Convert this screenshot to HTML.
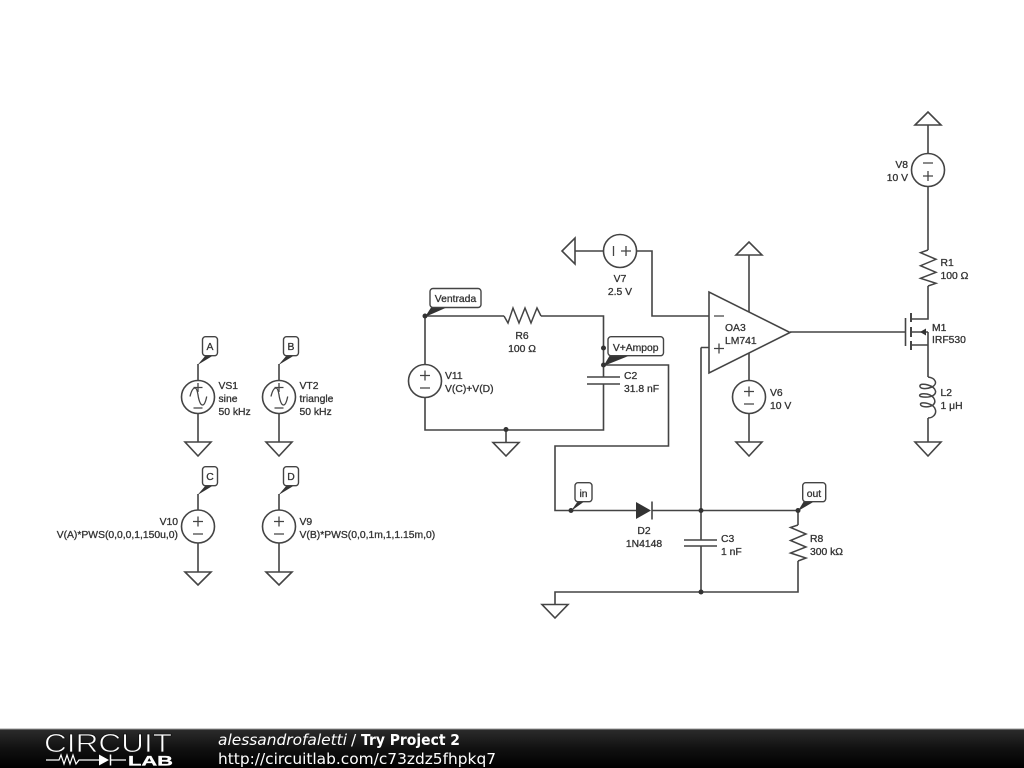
<!DOCTYPE html>
<html>
<head>
<meta charset="utf-8">
<style>
html,body{margin:0;padding:0;background:#fff;width:1024px;height:768px;overflow:hidden}
svg{display:block;position:absolute;left:0;top:0}
.w{fill:none;stroke:#444;stroke-width:1.6}
.g{fill:#fff;stroke:#444;stroke-width:1.6}
.d{fill:#333;stroke:none}
.s{fill:none;stroke:#444;stroke-width:1.3}
text{font-family:"Liberation Sans",sans-serif;font-size:10.35px;fill:#333;stroke:#333;stroke-width:0.3}
.e{text-anchor:end}
.m{text-anchor:middle}
.f{font-family:"DejaVu Sans",sans-serif;font-size:15.4px;fill:#fff;stroke:none}
</style>
</head>
<body>
<svg width="1024" height="768" viewBox="0 0 1024 768" xmlns="http://www.w3.org/2000/svg">
<defs>
<linearGradient id="bar" x1="0" y1="0" x2="0" y2="1">
<stop offset="0" stop-color="#2c2c2c"/>
<stop offset="0.5" stop-color="#111"/>
<stop offset="1" stop-color="#000"/>
</linearGradient>
</defs>

<!-- Wires -->
<path class="w" d="M198 364V381M198 414V442M279 364V381M279 414V442"/>
<path class="w" d="M198 494V510M198 543V572M279 494V510M279 543V572"/>
<path class="w" d="M425 316V365M425 398V430H603.500V384M425 316H504M541 316H603.500V377"/>
<path class="w" d="M506 430V442"/>
<path class="w" d="M603.500 365H668.500V446H555V510.500H636M652 510.500H798V525M798 561V592H555V604"/>
<path class="w" d="M701 347.500V540M701 546V592M701 347.500H709"/>
<path class="w" d="M575 251H603.500M637 251H652V316H709"/>
<path class="w" d="M749 255V312M749 353V381M749 414V442"/>
<path class="w" d="M790 332H905"/>
<path class="w" d="M928 125V153M928 187V250M928 286V319H911M928 332V377M928 418V442M911 345H928M911 332H928"/>

<!-- Grounds -->
<path class="g" d="M185 442H211L198 456Z"/>
<path class="g" d="M266 442H292L279 456Z"/>
<path class="g" d="M185 572H211L198 585Z"/>
<path class="g" d="M266 572H292L279 585Z"/>
<path class="g" d="M493 442.500H519L506 456Z"/>
<path class="g" d="M542 604.500H568L555 618Z"/>
<path class="g" d="M736 442H762L749 456Z"/>
<path class="g" d="M915 442H941L928 456Z"/>
<path class="g" d="M736 255H762L749 242Z"/>
<path class="g" d="M915 125H941L928 112Z"/>
<path class="g" d="M575 238V264L562 251Z"/>

<!-- Source circles -->
<circle class="g" cx="198" cy="397" r="16.500"/>
<circle class="g" cx="279" cy="397" r="16.500"/>
<circle class="g" cx="198" cy="526.500" r="16.500"/>
<circle class="g" cx="279" cy="526.500" r="16.500"/>
<circle class="g" cx="425" cy="381" r="16.500"/>
<circle class="g" cx="620" cy="251" r="16.500"/>
<circle class="g" cx="749" cy="397" r="16.500"/>
<circle class="g" cx="928" cy="170" r="16.500"/>

<!-- Sine symbols and polarity -->
<path class="s" d="M190 396.500Q192 388 195 388Q197 388 198.300 396.700Q200 405 202.500 405Q205 405 206.700 396.500"/>
<path class="s" d="M198 383V392M193.500 387.500H202.500M193.500 408H202.500"/>
<path class="s" d="M271 396.500Q273 388 276 388Q278 388 279.300 396.700Q281 405 283.500 405Q286 405 287.700 396.500"/>
<path class="s" d="M279 383V392M274.500 387.500H283.500M274.500 408H283.500"/>

<!-- Plus / minus -->
<path class="s" d="M193 521.500H203M198 516.500V526.500M193 534H203"/>
<path class="s" d="M274 521.500H284M279 516.500V526.500M274 534H284"/>
<path class="s" d="M420 375.500H430M425 370.500V380.500M420 388H430"/>
<path class="s" d="M744 391.500H754M749 386.500V396.500M744 404H754"/>
<path class="s" d="M923 163H933M923 176H933M928 171V181"/>
<path class="s" d="M613.500 246V256M621 251H631M626 246V256"/>

<!-- Resistors -->
<path class="s" d="M504 316L508 323L513 308L519 323L525 308L531 323L537 308L541 316" style="stroke-width:1.500"/>
<path class="s" d="M928 250L920.500 252.700L936 259.300L920.500 265.700L936 272.300L920.500 278.300L936 283.300L928 286" style="stroke-width:1.500"/>
<path class="s" d="M798 525L790.500 527.500L806 534L790.500 540.500L806 547L790.500 553L806 558L798 561" style="stroke-width:1.500"/>

<!-- Capacitors -->
<path class="w" d="M587 377H620M587 384H620"/>
<path class="w" d="M684 540H717M684 546H717"/>

<!-- Diode -->
<path class="d" d="M636 502V519L651 510.500Z"/>
<path class="w" d="M652 501.500V519.500"/>

<!-- Opamp -->
<path class="g" d="M709 292V373L790 332.500Z"/>
<path class="s" d="M714 316H724M714 348.500H724M719 343.500V353.500"/>

<!-- MOSFET -->
<path class="w" d="M905.500 318V346"/>
<path class="w" d="M911 313V322M911 327V337M911 341V350" style="stroke-width:2"/>
<path class="d" d="M920 332L926 328.500V335.500Z"/>

<!-- Inductor -->
<path class="s" d="M928 377C936 378 938 384 932 387C926 389.500 919 389 920 385.500C921 382.500 934 385 935.500 391C936.500 397 926 398 920.500 396.500C918 395 921 393 927 394C935 396 936.500 402 933 405C928 408 920 407 920.500 404C921 401.500 934 403 935.500 410C936.500 415 932 418 928 418" style="stroke-width:1.500"/>

<!-- Junction dots -->
<circle class="d" cx="425" cy="316" r="2.500"/>
<circle class="d" cx="506" cy="429.500" r="2.500"/>
<circle class="d" cx="603.500" cy="348" r="2.500"/>
<circle class="d" cx="603.500" cy="365" r="2.500"/>
<circle class="d" cx="571" cy="510.500" r="2.500"/>
<circle class="d" cx="701" cy="510.500" r="2.500"/>
<circle class="d" cx="798" cy="510.500" r="2.500"/>
<circle class="d" cx="701" cy="592" r="2.500"/>

<!-- Node label pointers -->
<path class="d" d="M197.500 365L206 355H214Z"/>
<path class="d" d="M278.500 365L287 355H295Z"/>
<path class="d" d="M197.500 495L206 485H214Z"/>
<path class="d" d="M278.500 495L287 485H295Z"/>
<path class="d" d="M425 317L432 306H450Z"/>
<path class="d" d="M603.500 366L610 355H631Z"/>
<path class="d" d="M571 511L578 501H585Z"/>
<path class="d" d="M798 511L804 501H815Z"/>

<!-- Node label boxes -->
<g fill="#fff" stroke="#444" stroke-width="1.400">
<rect x="202.500" y="336.700" width="15" height="19" rx="3"/>
<rect x="283.500" y="336.700" width="15" height="19" rx="3"/>
<rect x="202.500" y="466.700" width="15" height="19" rx="3"/>
<rect x="283.500" y="466.700" width="15" height="19" rx="3"/>
<rect x="430" y="288.500" width="51" height="19" rx="3"/>
<rect x="608" y="336.700" width="55.500" height="19" rx="3"/>
<rect x="575" y="482.700" width="17" height="19" rx="3"/>
<rect x="802.700" y="482.700" width="23" height="19" rx="3"/>
</g>
<text class="m" x="210" y="350">A</text>
<text class="m" x="291" y="350">B</text>
<text class="m" x="210" y="480">C</text>
<text class="m" x="291" y="480">D</text>
<text class="m" x="455.500" y="302">Ventrada</text>
<text class="m" x="635.700" y="351">V+Ampop</text>
<text class="m" x="583.500" y="497">in</text>
<text class="m" x="814" y="497">out</text>

<!-- Component labels -->
<text x="218.500" y="389">VS1</text>
<text x="218.500" y="402">sine</text>
<text x="218.500" y="415">50 kHz</text>
<text x="299.500" y="389">VT2</text>
<text x="299.500" y="402">triangle</text>
<text x="299.500" y="415">50 kHz</text>
<text class="e" x="178" y="525">V10</text>
<text class="e" x="178" y="538">V(A)*PWS(0,0,0,1,150u,0)</text>
<text x="299.500" y="525">V9</text>
<text x="299.500" y="538">V(B)*PWS(0,0,1m,1,1.15m,0)</text>
<text x="445" y="379">V11</text>
<text x="445" y="392">V(C)+V(D)</text>
<text class="m" x="522" y="339">R6</text>
<text class="m" x="522" y="352">100 Ω</text>
<text x="624" y="379">C2</text>
<text x="624" y="392">31.8 nF</text>
<text class="m" x="620" y="282">V7</text>
<text class="m" x="620" y="295">2.5 V</text>
<text x="725" y="331">OA3</text>
<text x="725" y="344">LM741</text>
<text x="770" y="396">V6</text>
<text x="770" y="409">10 V</text>
<text class="e" x="908" y="168">V8</text>
<text class="e" x="908" y="181">10 V</text>
<text x="940.500" y="266">R1</text>
<text x="940.500" y="279">100 Ω</text>
<text x="932" y="331">M1</text>
<text x="932" y="343">IRF530</text>
<text x="940.500" y="396">L2</text>
<text x="940.500" y="409">1 μH</text>
<text class="m" x="644" y="534">D2</text>
<text class="m" x="644" y="547">1N4148</text>
<text x="721" y="542">C3</text>
<text x="721" y="555">1 nF</text>
<text x="810" y="542">R8</text>
<text x="810" y="555">300 kΩ</text>

<!-- Footer -->
<rect x="0" y="729" width="1024" height="39" fill="url(#bar)"/>
<rect x="0" y="728.500" width="1024" height="1" fill="#999"/>
<text x="44" y="752" style="font-family:'Liberation Sans',sans-serif;font-size:26px;fill:#fff;stroke:#151515;stroke-width:0.800" textLength="128" lengthAdjust="spacingAndGlyphs">CIRCUIT</text>
<path d="M46 760H59L61 755L64 764L67 755L70 764L73 755L76 764L79 760H99M111 760H126" fill="none" stroke="#fff" stroke-width="1.200"/>
<path d="M99 754.500V765.500L109 760Z" fill="#fff"/>
<path d="M110.500 754.500V765.500" stroke="#fff" stroke-width="1.500"/>
<text x="128" y="765.500" style="font-family:'Liberation Sans',sans-serif;font-size:14px;font-weight:bold;fill:#fff;stroke:#fff;stroke-width:0.300" textLength="45" lengthAdjust="spacingAndGlyphs">LAB</text>
<text class="f" x="218" y="745" font-style="italic" textLength="129" lengthAdjust="spacingAndGlyphs">alessandrofaletti</text>
<text class="f" x="351" y="745">/</text>
<text class="f" x="361" y="745" font-weight="bold" textLength="99" lengthAdjust="spacingAndGlyphs">Try Project 2</text>
<text class="f" x="218" y="764">http://circuitlab.com/c73zdz5fhpkq7</text>
</svg>
</body>
</html>
